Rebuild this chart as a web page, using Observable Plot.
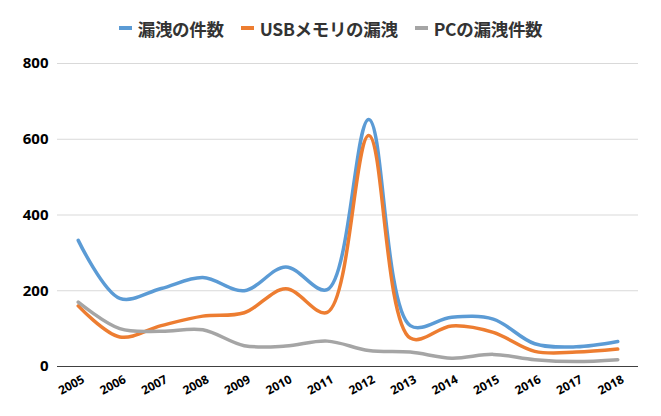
<!DOCTYPE html>
<html><head><meta charset="utf-8">
<script src="https://cdn.jsdelivr.net/npm/d3@7"></script>
<script src="https://cdn.jsdelivr.net/npm/@observablehq/plot@0.6"></script>
<style>
body{margin:0;background:#fff;width:661px;height:416px;overflow:hidden;font-family:"Open Sans","Noto Sans CJK JP",sans-serif;}
#legend{height:50px;display:flex;justify-content:center;align-items:center;padding-top:6px;box-sizing:border-box;font-family:"Noto Sans CJK JP",sans-serif;font-weight:bold;font-size:17.5px;color:#333;gap:17px;padding-left:0px;letter-spacing:-0.3px}
.item{display:flex;align-items:center;gap:6px}
.sw{width:13px;height:4px;display:inline-block}
</style></head><body>
<div id="legend"></div>
<div id="chart"></div>
<script>
const years = [2005,2006,2007,2008,2009,2010,2011,2012,2013,2014,2015,2016,2017,2018];
const seriesNames = ["漏洩の件数","USBメモリの漏洩","PCの漏洩件数"];
const leakTotal = [333,180,206,235,200,263,203,652,108,130,125,60,52,66];
const leakUSB   = [160,78,108,133,142,205,143,610,75,107,90,40,38,46];
const leakPC    = [170,100,93,97,55,54,67,42,38,22,32,18,13,18];
const yTicks = [0,200,400,600,800];
const colors = ["#5B9BD5","#ED7D31","#A5A5A5"];

const values = [leakTotal, leakUSB, leakPC];
const data = [];
values.forEach((arr,si)=>arr.forEach((v,i)=>data.push({series:seriesNames[si], year:years[i], value:v})));

const legend = document.getElementById("legend");
seriesNames.forEach((n,i)=>{
  const d=document.createElement("div");d.className="item";
  d.innerHTML=`<span class="sw" style="background:${colors[i]}"></span><span>${n}</span>`;
  legend.appendChild(d);
});

const chart = Plot.plot({
  width:661, height:366,
  marginLeft:57, marginRight:23, marginTop:13, marginBottom:50,
  x:{domain:[2004.5,2018.5], axis:null},
  y:{domain:[0,800], ticks:yTicks, tickFormat:d=>String(d)},
  color:{domain:seriesNames, range:colors},
  style:{fontFamily:"Open Sans, sans-serif"},
  marks:[
    Plot.ruleY(yTicks.filter(d=>d>0), {stroke:"#D9D9D9", strokeWidth:1}),
    Plot.ruleY([0], {stroke:"#404040", strokeWidth:1.2}),
    Plot.axisY({ticks:yTicks, tickSize:0, tickPadding:9, fontSize:15, fontWeight:"bold", fill:"#000", label:null}),
    Plot.line(data, {x:"year", y:"value", stroke:"series", z:"series", curve:"catmull-rom", strokeWidth:3.5, strokeLinecap:"round"}),
    Plot.text(years, {x:d=>d, frameAnchor:"bottom", text:d=>String(d), rotate:-28, dy:22, dx:-5, fontSize:12, fontWeight:"bold", fill:"#000", textAnchor:"middle"})
  ]
});
document.getElementById("chart").appendChild(chart);
</script>
</body></html>
